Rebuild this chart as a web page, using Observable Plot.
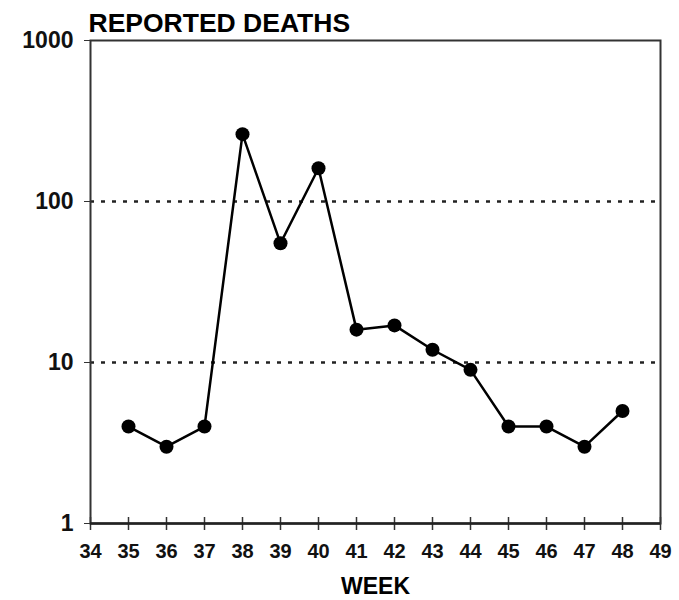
<!DOCTYPE html>
<html>
<head>
<meta charset="utf-8">
<script src="https://cdn.jsdelivr.net/npm/d3@7"></script>
<script src="https://cdn.jsdelivr.net/npm/@observablehq/plot@0.6"></script>
<style>
  html, body { margin: 0; padding: 0; background: #fff; }
</style>
</head>
<body>
<div id="chart"></div>
<script>
const weeks = [35, 36, 37, 38, 39, 40, 41, 42, 43, 44, 45, 46, 47, 48];
const deaths = [4, 3, 4, 262, 55, 161, 16, 17, 12, 9, 4, 4, 3, 5];
const xTicks = [34, 35, 36, 37, 38, 39, 40, 41, 42, 43, 44, 45, 46, 47, 48, 49];
const yTicks = [1, 10, 100, 1000];
const gridValues = [10, 100];
const title = "REPORTED DEATHS";
const xLabel = "WEEK";

const data = weeks.map((w, i) => ({week: w, deaths: deaths[i]}));
const font = "'Liberation Sans', Arial, sans-serif";

const chart = Plot.plot({
  width: 679,
  height: 600,
  marginLeft: 90,
  marginRight: 19,
  marginTop: 40,
  marginBottom: 77,
  style: {fontFamily: font, fontWeight: "bold", background: "#fff", color: "#111"},
  x: {domain: [34, 49]},
  y: {type: "log", domain: [1, 1000]},
  marks: [
    Plot.ruleY(gridValues, {stroke: "#222", strokeWidth: 2.5, strokeDasharray: "4 7"}),
    Plot.frame({stroke: "#333", strokeWidth: 2}),
    Plot.axisY({ticks: yTicks, tickSize: 6, tickPadding: 11, tickFormat: d => String(d), fontSize: 23, label: null, stroke: "#333"}),
    Plot.axisX({ticks: xTicks, tickSize: 13, dy: -6, tickFormat: () => "", label: null, stroke: "#333", strokeWidth: 1.5}),
    Plot.axisX({ticks: xTicks, tickSize: 0, tickPadding: 20, tickFormat: d => String(d), fontSize: 20, label: null}),
    Plot.ruleY([1], {stroke: "#222", strokeWidth: 2.5}),
    Plot.line(data, {x: "week", y: "deaths", stroke: "#000", strokeWidth: 2.5}),
    Plot.dot(data, {x: "week", y: "deaths", r: 7, fill: "#000"}),
    Plot.text([title], {frameAnchor: "top-left", textAnchor: "start", lineAnchor: "top", dy: -27, dx: -2, fontSize: 26.5, fill: "#000"}),
    Plot.text([xLabel], {frameAnchor: "bottom", lineAnchor: "bottom", dy: 70, fontSize: 23, fill: "#000"})
  ]
});
document.getElementById("chart").appendChild(chart);
</script>
</body>
</html>
